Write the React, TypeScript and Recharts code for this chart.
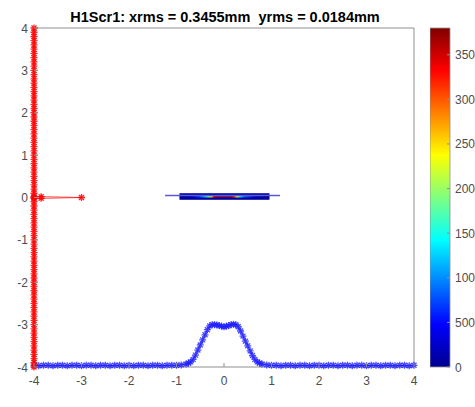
import React from "react";
import {
  ScatterChart,
  Scatter,
  XAxis,
  YAxis,
  ReferenceArea,
  ReferenceLine,
  BarChart,
  Bar,
} from "recharts";

const title = "H1Scr1: xrms = 0.3455mm  yrms = 0.0184mm";
const axisTicks = [-4, -3, -2, -1, 0, 1, 2, 3, 4];

// red trace: pinned on the left edge
const redY = [
  4, 3.9, 3.8, 3.7, 3.6, 3.5, 3.4, 3.3, 3.2, 3.1, 3, 2.9, 2.8, 2.7, 2.6, 2.5,
  2.4, 2.3, 2.2, 2.1, 2, 1.9, 1.8, 1.7, 1.6, 1.5, 1.4, 1.3, 1.2, 1.1, 1, 0.9,
  0.8, 0.7, 0.6, 0.5, 0.4, 0.3, 0.2, 0.1, 0, -0.1, -0.2, -0.3, -0.4, -0.5,
  -0.6, -0.7, -0.8, -0.9, -1, -1.1, -1.2, -1.3, -1.4, -1.5, -1.6, -1.7, -1.8,
  -1.9, -2, -2.1, -2.2, -2.3, -2.4, -2.5, -2.6, -2.7, -2.8, -2.9, -3, -3.1,
  -3.2, -3.3, -3.4, -3.5, -3.6, -3.7, -3.8, -3.9, -4,
];
const redEdgeX = -4;
const redBranchX = [-4, -3.85, -3, -3.85, -4];
const redBranchY = [0.02, 0.02, 0, -0.02, -0.02];

// blue trace: profile along the bottom
const blueX = [
  -4, -3.9, -3.8, -3.7, -3.6, -3.5, -3.4, -3.3, -3.2, -3.1, -3, -2.9, -2.8,
  -2.7, -2.6, -2.5, -2.4, -2.3, -2.2, -2.1, -2, -1.9, -1.8, -1.7, -1.6, -1.5,
  -1.4, -1.3, -1.2, -1.1, -1, -0.9, -0.8, -0.75, -0.7, -0.65, -0.6, -0.55,
  -0.5, -0.45, -0.4, -0.35, -0.3, -0.25, -0.2, -0.15, -0.1, -0.05, 0, 0.05,
  0.1, 0.15, 0.2, 0.25, 0.3, 0.35, 0.4, 0.45, 0.5, 0.55, 0.6, 0.65, 0.7, 0.75,
  0.8, 0.9, 1, 1.1, 1.2, 1.3, 1.4, 1.5, 1.6, 1.7, 1.8, 1.9, 2, 2.1, 2.2, 2.3,
  2.4, 2.5, 2.6, 2.7, 2.8, 2.9, 3, 3.1, 3.2, 3.3, 3.4, 3.5, 3.6, 3.7, 3.8, 3.9,
  4,
];
const blueY = [
  -3.96, -3.97, -3.96, -3.96, -3.97, -3.96, -3.96, -3.97, -3.96, -3.96, -3.97,
  -3.96, -3.96, -3.97, -3.96, -3.96, -3.97, -3.96, -3.96, -3.97, -3.96, -3.97,
  -3.96, -3.96, -3.97, -3.96, -3.96, -3.97, -3.96, -3.96, -3.96, -3.95, -3.93,
  -3.91, -3.88, -3.82, -3.72, -3.6, -3.48, -3.36, -3.24, -3.12, -3.03, -3.0,
  -3.0, -3.01, -3.02, -3.04, -3.05, -3.04, -3.02, -3.0, -2.99, -3.0, -3.05,
  -3.15, -3.27, -3.39, -3.5, -3.62, -3.73, -3.82, -3.88, -3.91, -3.93, -3.95,
  -3.96, -3.96, -3.97, -3.96, -3.96, -3.97, -3.96, -3.96, -3.97, -3.96, -3.96,
  -3.97, -3.96, -3.96, -3.97, -3.96, -3.96, -3.97, -3.96, -3.96, -3.97, -3.96,
  -3.96, -3.97, -3.96, -3.96, -3.97, -3.96, -3.96, -3.97, -3.96,
];

// beam spot image around y = 0
const spotLineX = [-1.24, 1.18];
const spotLineY = 0.045;
const spotCoreX = [-0.93, 0.95];
const spotCoreY = [-0.047, 0.094];
const spotStripeY = [0.0, 0.04];

// colorbar
const cbarMax = 380;
const cbarTicks = [0, 50, 100, 150, 200, 250, 300, 350];
const cbarLabels = ["0", "500", "100", "150", "200", "250", "300", "350"];

const axisColor = "#8f8f8f";
const labelColor = "#4d4d4d";
const font = "'Liberation Sans', Arial, sans-serif";

const redPoints = redY.map((y) => ({ x: redEdgeX, y }));
const redBranch = redBranchX.map((x, i) => ({ x, y: redBranchY[i] }));
const bluePoints = blueX.map((x, i) => ({ x, y: blueY[i] }));

const star = (color: string) => (props: any) => {
  const { cx, cy } = props;
  const r = 3.5;
  const d = r * 0.707;
  return (
    <path
      d={`M${cx - r},${cy}h${2 * r}M${cx},${cy - r}v${2 * r}M${cx - d},${cy - d}l${2 * d},${2 * d}M${cx - d},${cy + d}l${2 * d},${-2 * d}`}
      stroke={color}
      strokeWidth={1.3}
      fill="none"
    />
  );
};

const BottomTick = (props: any) => {
  const { x, y, payload } = props;
  return (
    <g>
      <line x1={x} x2={x} y1={y} y2={y - 4} stroke={axisColor} />
      <text x={x} y={y + 18} textAnchor="middle" fill={labelColor} fontSize={12} fontFamily={font}>
        {String(payload.value)}
      </text>
    </g>
  );
};

const TopTick = (props: any) => {
  const { x, y } = props;
  return <line x1={x} x2={x} y1={y} y2={y + 4} stroke={axisColor} />;
};

const LeftTick = (props: any) => {
  const { x, y, payload } = props;
  return (
    <g>
      <line x1={x} x2={x + 4} y1={y} y2={y} stroke={axisColor} />
      <text x={x - 6} y={y + 4.5} textAnchor="end" fill={labelColor} fontSize={12} fontFamily={font}>
        {String(payload.value)}
      </text>
    </g>
  );
};

const RightTick = (props: any) => {
  const { x, y } = props;
  return <line x1={x} x2={x - 4} y1={y} y2={y} stroke={axisColor} />;
};

const CbarTick = (props: any) => {
  const { x, y, payload, index } = props;
  return (
    <g>
      <line x1={x} x2={x - 3} y1={y} y2={y} stroke={axisColor} />
      <text x={x + 5} y={y + 4.5} textAnchor="start" fill={labelColor} fontSize={12} fontFamily={font}>
        {cbarLabels[index] ?? String(payload.value)}
      </text>
    </g>
  );
};

export default function App() {
  return (
    <div style={{ position: "absolute", left: 0, top: 0, width: 475, height: 407, background: "#fff" }}>
      <svg width={475} height={407} style={{ position: "absolute", left: 0, top: 0 }}>
        <defs>
          <linearGradient id="jet" x1="0" y1="1" x2="0" y2="0">
            <stop offset="0" stopColor="#00008f" />
            <stop offset="0.125" stopColor="#0000ff" />
            <stop offset="0.375" stopColor="#00ffff" />
            <stop offset="0.625" stopColor="#ffff00" />
            <stop offset="0.875" stopColor="#ff0000" />
            <stop offset="1" stopColor="#800000" />
          </linearGradient>
          <linearGradient id="spot" x1="0" y1="0" x2="1" y2="0">
            <stop offset="0" stopColor="#000080" />
            <stop offset="0.146" stopColor="#0000cc" />
            <stop offset="0.225" stopColor="#0040ff" />
            <stop offset="0.28" stopColor="#00c0ff" />
            <stop offset="0.326" stopColor="#80ff80" />
            <stop offset="0.36" stopColor="#ffc000" />
            <stop offset="0.38" stopColor="#e00000" />
            <stop offset="0.43" stopColor="#900030" />
            <stop offset="0.585" stopColor="#900040" />
            <stop offset="0.62" stopColor="#ff6000" />
            <stop offset="0.64" stopColor="#ffff00" />
            <stop offset="0.674" stopColor="#20e0ff" />
            <stop offset="0.72" stopColor="#0060ff" />
            <stop offset="0.84" stopColor="#0000d0" />
            <stop offset="1" stopColor="#000080" />
          </linearGradient>
        </defs>
        <text
          x={225}
          y={22}
          textAnchor="middle"
          fontWeight="bold"
          fontSize={14.5}
          fontFamily={font}
          fill="#000"
          style={{ whiteSpace: "pre" }}
        >
          {title}
        </text>
      </svg>

      <div style={{ position: "absolute", left: 0, top: 0 }}>
        <ScatterChart width={475} height={407} margin={{ top: 27, right: 60, bottom: 10, left: 0 }}>
          <XAxis
            type="number"
            dataKey="x"
            domain={[-4, 4]}
            ticks={axisTicks}
            height={30}
            tickSize={0}
            tickMargin={0}
            axisLine={{ stroke: axisColor }}
            tickLine={false}
            tick={<BottomTick />}
          />
          <XAxis
            xAxisId="top"
            orientation="top"
            type="number"
            domain={[-4, 4]}
            ticks={axisTicks}
            height={1}
            tickSize={0}
            tickMargin={0}
            axisLine={{ stroke: axisColor }}
            tickLine={false}
            tick={<TopTick />}
          />
          <YAxis
            type="number"
            dataKey="y"
            domain={[-4, 4]}
            ticks={axisTicks}
            width={34}
            tickSize={0}
            tickMargin={0}
            axisLine={{ stroke: axisColor }}
            tickLine={false}
            tick={<LeftTick />}
          />
          <YAxis
            yAxisId="right"
            orientation="right"
            type="number"
            domain={[-4, 4]}
            ticks={axisTicks}
            width={1}
            tickSize={0}
            tickMargin={0}
            axisLine={{ stroke: axisColor }}
            tickLine={false}
            tick={<RightTick />}
          />
          <ReferenceArea
            x1={spotCoreX[0]}
            x2={spotCoreX[1]}
            y1={spotCoreY[0]}
            y2={spotCoreY[1]}
            fill="#00058f"
            fillOpacity={1}
            stroke="#2020c0"
            strokeWidth={0.8}
          />
          <ReferenceArea
            x1={spotCoreX[0]}
            x2={spotCoreX[1]}
            y1={spotStripeY[0]}
            y2={spotStripeY[1]}
            fill="url(#spot)"
            fillOpacity={1}
            stroke="none"
          />
          <ReferenceLine
            segment={[
              { x: spotLineX[0], y: spotLineY },
              { x: spotLineX[1], y: spotLineY },
            ]}
            stroke="#5a5ad8"
            strokeWidth={1.5}
          />
          <Scatter
            data={bluePoints}
            line={{ stroke: "#0000ff", strokeWidth: 0.8 }}
            lineType="joint"
            shape={star("rgba(30,30,255,0.8)")}
            isAnimationActive={false}
          />
          <Scatter
            data={redPoints}
            line={{ stroke: "#ff0000", strokeWidth: 0.8 }}
            lineType="joint"
            shape={star("rgba(255,0,0,0.85)")}
            isAnimationActive={false}
          />
          <Scatter
            data={redBranch}
            line={{ stroke: "#ff2020", strokeWidth: 0.8 }}
            lineType="joint"
            shape={star("rgba(255,0,0,0.85)")}
            isAnimationActive={false}
          />
        </ScatterChart>
      </div>

      <div style={{ position: "absolute", left: 430, top: 0 }}>
        <BarChart
          width={45}
          height={407}
          data={[{ name: "cbar", v: cbarMax }]}
          margin={{ top: 28, right: 0, bottom: 40, left: 0 }}
          barCategoryGap={0}
        >
          <XAxis dataKey="name" hide />
          <YAxis
            orientation="right"
            type="number"
            domain={[0, cbarMax]}
            ticks={cbarTicks}
            width={25}
            tickSize={0}
            tickMargin={0}
            axisLine={false}
            tickLine={false}
            tick={<CbarTick />}
          />
          <Bar dataKey="v" fill="url(#jet)" stroke={axisColor} strokeWidth={0.8} isAnimationActive={false} />
        </BarChart>
      </div>
    </div>
  );
}
